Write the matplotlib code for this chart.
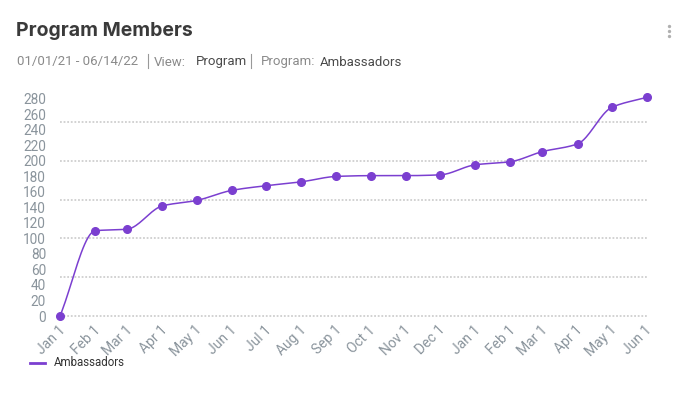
import matplotlib
matplotlib.use("Agg")
import matplotlib.pyplot as plt
import matplotlib.dates as mdates
import matplotlib.transforms as mtransforms
import numpy as np
import datetime as dt

# ---- data ----
months = ["2021-01-01", "2021-02-01", "2021-03-01", "2021-04-01", "2021-05-01",
          "2021-06-01", "2021-07-01", "2021-08-01", "2021-09-01", "2021-10-01",
          "2021-11-01", "2021-12-01", "2022-01-01", "2022-02-01", "2022-03-01",
          "2022-04-01", "2022-05-01", "2022-06-01"]
members = [0, 110, 112, 142, 149, 162, 168, 173, 180, 181, 181, 182,
           195, 199, 212, 222, 269, 282]
tick_labels = ["Jan 1", "Feb 1", "Mar 1", "Apr 1", "May 1", "Jun 1", "Jul 1",
               "Aug 1", "Sep 1", "Oct 1", "Nov 1", "Dec 1", "Jan 1", "Feb 1",
               "Mar 1", "Apr 1", "May 1", "Jun 1"]
series_name = "Ambassadors"
y_ticks = list(range(0, 281, 20))
grid_vals = list(range(0, 251, 50))

dates = [dt.datetime.strptime(m, "%Y-%m-%d") for m in months]
xn = mdates.date2num(dates)
yv = np.array(members, dtype=float)


def monotone_curve(x, y, n=20):
    x = np.asarray(x, float); y = np.asarray(y, float)
    h = np.diff(x); d = np.diff(y) / h
    m = np.zeros_like(y)
    m[0] = d[0]; m[-1] = d[-1]
    for i in range(1, len(y) - 1):
        if d[i - 1] * d[i] <= 0:
            m[i] = 0
        else:
            w1 = 2 * h[i] + h[i - 1]; w2 = h[i] + 2 * h[i - 1]
            m[i] = (w1 + w2) / (w1 / d[i - 1] + w2 / d[i])
    xs, ys = [], []
    for i in range(len(x) - 1):
        t = np.linspace(0, 1, n, endpoint=False)
        hh = h[i]
        h00 = 2 * t**3 - 3 * t**2 + 1; h10 = t**3 - 2 * t**2 + t
        h01 = -2 * t**3 + 3 * t**2; h11 = t**3 - t**2
        xs.append(x[i] + t * hh)
        ys.append(h00 * y[i] + h10 * hh * m[i] + h01 * y[i + 1] + h11 * hh * m[i + 1])
    xs.append([x[-1]]); ys.append([y[-1]])
    return np.concatenate(xs), np.concatenate(ys)


plt.rcParams['font.family'] = ['Roboto', 'DejaVu Sans']

W, H = 700, 394
fig = plt.figure(figsize=(7, 3.94), dpi=100)
fig.patch.set_facecolor("white")

left, right = 60 / W, 647 / W
bottom, top = (H - 316) / H, (H - 95) / H
ax = fig.add_axes([left, bottom, right - left, top - bottom])

purple = "#7B3FD0"
for g in grid_vals:
    ax.axhline(g, color="#cfcfcf", linestyle=(0, (1, 1)), lw=1.3, zorder=1,
               clip_on=False)
cx, cy = monotone_curve(xn, yv)
ax.plot(cx, cy, color=purple, lw=1.1, clip_on=False, zorder=3)
ax.plot(xn, yv, "o", color=purple, ms=5.5, clip_on=False, zorder=4)

ax.set_xlim(xn[0], xn[-1])
ax.set_ylim(0, 285)

ax.set_yticks(y_ticks)
ax.set_yticklabels([str(v) for v in y_ticks])
ax.tick_params(axis="y", which="both", length=0, pad=10, labelsize=9.8, labelcolor="#8a949c")

ax.set_xticks(xn)
ax.set_xticklabels(tick_labels, rotation=45, ha="right", va="top", rotation_mode="anchor")
ax.tick_params(axis="x", length=0, pad=5, labelsize=10, labelcolor="#8a949c")
offset = mtransforms.ScaledTranslation(-2 / 100, 0, fig.dpi_scale_trans)
for lab in ax.get_xticklabels():
    lab.set_transform(lab.get_transform() + offset)

for s in ax.spines.values():
    s.set_visible(False)

# title and subtitle
fig.text(16 / W, 1 - 36 / H, "Program Members", fontsize=14, fontweight="bold",
         color="#3a3a3a", va="baseline", ha="left", family=["Inter", "DejaVu Sans"])

sub_y = 1 - 65.5 / H
parts = [("01/01/21 - 06/14/22", "#8a8a8a", 17),
         ("View:", "#8a8a8a", 154),
         ("Program", "#4a4a4a", 196),
         ("Program:", "#8a8a8a", 261),
         ("Ambassadors", "#4a4a4a", 320)]
for txt, col, xp in parts:
    fig.text(xp / W, sub_y, txt, fontsize=9.5, color=col, va="baseline", ha="left")
for xp in (148, 251):
    fig.add_artist(plt.Line2D([xp / W, xp / W], [1 - 54 / H, 1 - 68 / H],
                              color="#999999", lw=0.8))

# menu dots
for yy in (26, 31, 36):
    fig.add_artist(plt.Line2D([669 / W], [1 - yy / H], marker="o", ms=1.4,
                              color="#b0b0b0", lw=0))

# legend
fig.add_artist(plt.Line2D([30 / W, 45 / W], [1 - 363 / H, 1 - 363 / H],
                          color=purple, lw=2))
fig.text(54 / W, 1 - 366.5 / H, series_name, fontsize=8.3, color="#333333",
         va="baseline", ha="left")

fig.savefig("out.png", dpi=100, facecolor="white")
